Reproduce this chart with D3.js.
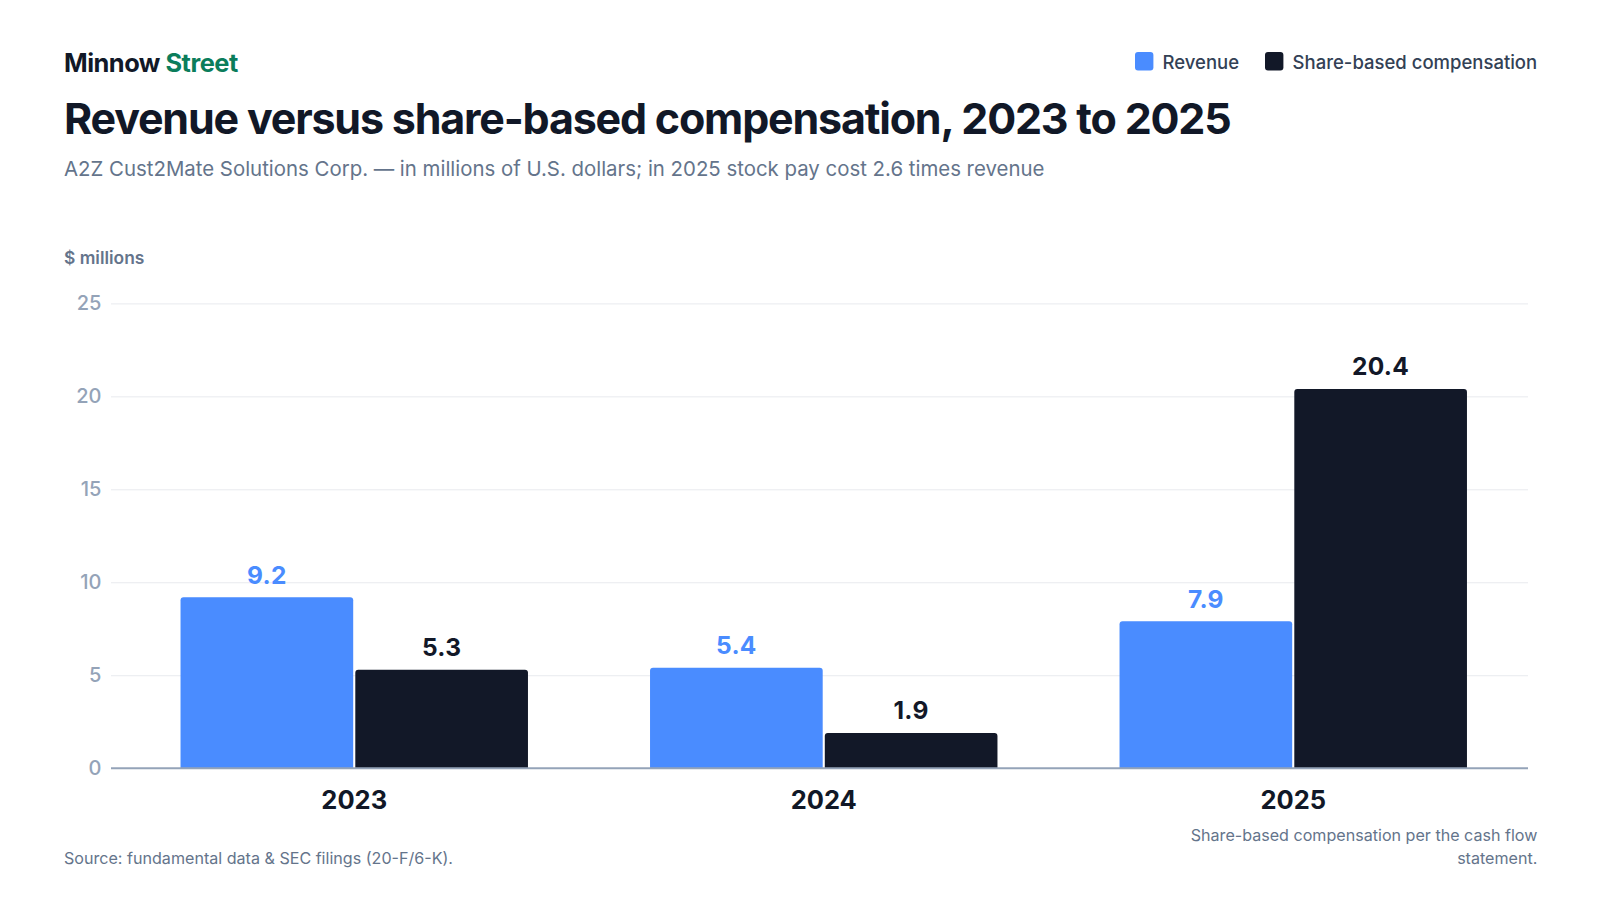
<!DOCTYPE html>
<html>
<head>
<meta charset="utf-8">
<script src="https://cdn.jsdelivr.net/npm/d3@7"></script>
<style>
  body { margin: 0; background: #fff; }
  svg { display: block; font-family: Inter, "Noto Sans", sans-serif; }
</style>
</head>
<body>
<svg id="chart" width="1600" height="900"></svg>
<script>
// chart data
const years = ["2023", "2024", "2025"];
const seriesNames = ["Revenue", "Share-based compensation"];
const revenue = [9.2, 5.4, 7.9];
const shareComp = [5.3, 1.9, 20.4];
const yTicks = [0, 5, 10, 15, 20, 25];

const colors = ["#4a8cff", "#121828"];

const svg = d3.select("#chart");
const gridX = 111, x0 = 119.5, x1 = 1528, yTop = 303.4, yBase = 768.2;

const x = d3.scaleBand().domain(years).range([x0, x1])
  .paddingInner(0.26).paddingOuter(0.13);
const xs = d3.scaleBand().domain(seriesNames).range([0, x.bandwidth()]).paddingInner(0.012);
const y = d3.scaleLinear().domain([0, 25]).range([yBase, yTop]);

// header
const brand = svg.append("text").attr("x", 64).attr("y", 71.5)
  .style("font-size", "25.4px").style("font-weight", 700).style("letter-spacing", "-0.5px");
brand.append("tspan").attr("fill", "#111827").text("Minnow ");
brand.append("tspan").attr("fill", "#0b7d5b").text("Street");

svg.append("text").attr("x", 64).attr("y", 134)
  .attr("fill", "#111827").style("font-size", "43px").style("font-weight", 700)
  .style("letter-spacing", "-1.2px")
  .text("Revenue versus share-based compensation, 2023 to 2025");

svg.append("text").attr("x", 64).attr("y", 176)
  .attr("fill", "#64748b").style("font-size", "20.4px")
  .text("A2Z Cust2Mate Solutions Corp. — in millions of U.S. dollars; in 2025 stock pay cost 2.6 times revenue");

// legend
const legend = svg.append("g");
const legendX = [1135, 1265];
seriesNames.forEach((name, i) => {
  legend.append("rect").attr("x", legendX[i]).attr("y", 52).attr("width", 18.4).attr("height", 18.4)
    .attr("rx", 3).attr("fill", colors[i]);
  legend.append("text").attr("x", legendX[i] + 27.6).attr("y", 68.5)
    .attr("fill", "#334155").style("font-size", "18.5px").style("font-weight", 500).text(name);
});

// y axis label
svg.append("text").attr("x", 64).attr("y", 264)
  .attr("fill", "#64748b").style("font-size", "17.4px").style("font-weight", 600).text("$ millions");

// grid + ticks
const yAxis = d3.axisLeft(y).tickValues(yTicks).tickSize(-(x1 - gridX)).tickPadding(9.6);
const ga = svg.append("g").attr("transform", `translate(${gridX},0)`).call(yAxis);
ga.select(".domain").remove();
ga.selectAll(".tick line").attr("stroke", "#e8eaee").attr("stroke-width", 1);
ga.selectAll(".tick text").attr("fill", "#94a3b8").style("font-size", "20px")
  .style("font-weight", 500).style("font-family", "Inter, sans-serif");
ga.selectAll(".tick").filter(d => d === 0).select("line").remove();

// bars
const rows = years.map((yr, i) => ({ year: yr, values: [revenue[i], shareComp[i]] }));
const r = 3;
function topRounded(bx, by, w, h) {
  return `M${bx},${by + h}V${by + r}Q${bx},${by} ${bx + r},${by}H${bx + w - r}Q${bx + w},${by} ${bx + w},${by + r}V${by + h}Z`;
}
const groups = svg.append("g").selectAll("g").data(rows).join("g")
  .attr("transform", d => `translate(${x(d.year)},0)`);
groups.selectAll("path").data(d => d.values.map((v, i) => ({ v, i })))
  .join("path")
  .attr("fill", d => colors[d.i])
  .attr("d", d => topRounded(xs(seriesNames[d.i]), y(d.v), xs.bandwidth(), yBase - y(d.v)));
groups.selectAll("text").data(d => d.values.map((v, i) => ({ v, i })))
  .join("text")
  .attr("x", d => xs(seriesNames[d.i]) + xs.bandwidth() / 2)
  .attr("y", d => y(d.v) - 13.5)
  .attr("text-anchor", "middle")
  .attr("fill", d => d.i === 0 ? "#4a8cff" : "#121828")
  .style("font-size", "24.5px").style("font-weight", 700).style("letter-spacing", "0.3px")
  .text(d => d.v.toFixed(1));

// baseline
svg.append("line").attr("x1", gridX).attr("x2", x1).attr("y1", yBase).attr("y2", yBase)
  .attr("stroke", "#94a3b8").attr("stroke-width", 2);

// x axis labels
const xAxis = d3.axisBottom(x).tickSize(0).tickPadding(22.5);
const gx = svg.append("g").attr("transform", `translate(0,${yBase})`).call(xAxis);
gx.select(".domain").remove();
gx.selectAll(".tick text").attr("fill", "#111827").style("font-size", "25.5px")
  .style("font-weight", 700).style("font-family", "Inter, sans-serif");

// footer
svg.append("text").attr("x", 64).attr("y", 864)
  .attr("fill", "#64748b").style("font-size", "16.1px")
  .text("Source: fundamental data & SEC filings (20-F/6-K).");
const note = svg.append("text").attr("text-anchor", "end")
  .attr("fill", "#64748b").style("font-size", "16.1px");
note.append("tspan").attr("x", 1537.4).attr("y", 840.7).text("Share-based compensation per the cash flow");
note.append("tspan").attr("x", 1537.4).attr("y", 864).text("statement.");
</script>
</body>
</html>
